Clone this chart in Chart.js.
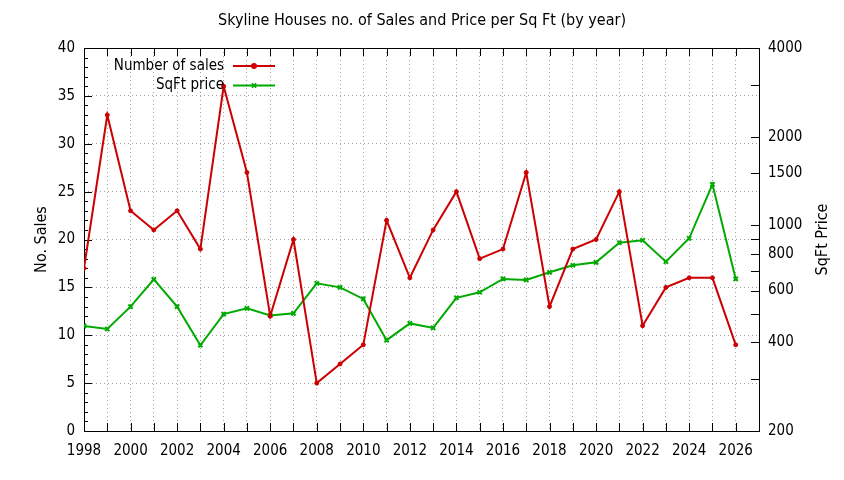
<!DOCTYPE html>
<html><head><meta charset="utf-8">
<script src="https://cdn.jsdelivr.net/npm/chart.js@4.4.0/dist/chart.umd.min.js"></script>
<style>html,body{margin:0;padding:0;background:#fff}#wrap{width:844px;height:480px}</style>
</head><body><div id="wrap"><canvas id="c" width="844" height="480"></canvas></div>
<script>
const years = [1998,1999,2000,2001,2002,2003,2004,2005,2006,2007,2008,2009,2010,2011,2012,2013,2014,2015,2016,2017,2018,2019,2020,2021,2022,2023,2024,2025,2026];
const sales = [17,33,23,21,23,19,36,27,12,20,5,7,9,22,16,21,25,18,19,27,13,19,20,25,11,15,16,16,9];
const sqftPrice = [455,444,529,655,529,391,499,522,494,502,635,615,562,407,464,448,567,592,657,652,692,731,748,872,889,752,903,1377,657];
const xTickLabels = ['1998','2000','2002','2004','2006','2008','2010','2012','2014','2016','2018','2020','2022','2024','2026'];
const salesTickValues = [0,5,10,15,20,25,30,35,40];
const priceTickValues = [200,300,400,500,600,700,800,900,1000,1500,2000,3000,4000];
const priceTickLabels = ['200','','400','','600','','800','','1000','1500','2000','','4000'];
const titleText = 'Skyline Houses no. of Sales and Price per Sq Ft (by year)';
const leftAxisTitle = 'No. Sales';
const rightAxisTitle = 'SqFt Price';
const seriesLabels = ['Number of sales','SqFt price'];
const seriesColors = ['#cc0000','#00aa00'];

const FONT = "'DejaVu Sans Condensed','DejaVu Sans',sans-serif";
Chart.defaults.font.family = FONT;
Chart.defaults.font.size = 15;
Chart.defaults.color = '#000';

const framePlugin = {
  id: 'frame',
  beforeDatasetsDraw(chart) {
    const {ctx, chartArea: a, scales} = chart;
    ctx.save();
    ctx.strokeStyle = '#000';
    ctx.lineWidth = 1;
    ctx.beginPath();
    scales.x.ticks.forEach(t => {
      const px = Math.round(scales.x.getPixelForValue(t.value)) + 0.5;
      ctx.moveTo(px, a.bottom); ctx.lineTo(px, a.bottom - 8);
      ctx.moveTo(px, a.top); ctx.lineTo(px, a.top + 8);
    });
    const ys = scales.y;
    for (let v = ys.min; v <= ys.max; v += 1) {
      const py = Math.round(ys.getPixelForValue(v)) + 0.5;
      const len = v % 5 === 0 ? 8 : 4;
      ctx.moveTo(a.left, py); ctx.lineTo(a.left + len, py);
    }
    scales.y1.ticks.forEach(t => {
      const py = Math.round(scales.y1.getPixelForValue(t.value)) + 0.5;
      ctx.moveTo(a.right, py); ctx.lineTo(a.right - 8, py);
    });
    ctx.stroke();
    ctx.strokeRect(Math.round(a.left) + 0.5, Math.round(a.top) + 0.5, Math.round(a.right - a.left), Math.round(a.bottom - a.top));
    ctx.restore();
  },
  afterDraw(chart) {
    const {ctx, chartArea: a} = chart;
    ctx.save();
    ctx.font = '15px ' + FONT;
    ctx.textBaseline = 'middle';
    chart.data.datasets.forEach((ds, i) => {
      const y = a.top + 18 + i * 19.5;
      ctx.textAlign = 'right';
      ctx.fillStyle = '#000';
      ctx.fillText(ds.label, a.left + 140, y);
      ctx.strokeStyle = ds.borderColor;
      ctx.lineWidth = 2;
      ctx.beginPath();
      ctx.moveTo(a.left + 149, y); ctx.lineTo(a.left + 191, y);
      ctx.stroke();
      ctx.fillStyle = ds.backgroundColor;
      Chart.helpers.drawPoint(ctx, {pointStyle: ds.pointStyle, radius: ds.pointRadius, rotation: 0, borderWidth: ds.pointBorderWidth}, a.left + 170, y);
    });
    ctx.restore();
    const midY = (a.top + a.bottom) / 2;
    [[leftAxisTitle, 42], [rightAxisTitle, 823]].forEach(([txt, x]) => {
      ctx.save();
      ctx.font = '16px ' + FONT;
      ctx.fillStyle = '#000';
      ctx.textAlign = 'center';
      ctx.textBaseline = 'middle';
      ctx.translate(x, midY);
      ctx.rotate(-Math.PI / 2);
      ctx.fillText(txt, 0, 0);
      ctx.restore();
    });
  }
};

new Chart(document.getElementById('c'), {
  type: 'line',
  data: {
    datasets: [
      {label: seriesLabels[0], data: years.map((x, i) => ({x, y: sales[i]})), borderColor: seriesColors[0], backgroundColor: seriesColors[0],
       borderWidth: 2, pointStyle: 'circle', pointRadius: 2, pointBorderWidth: 1, yAxisID: 'y', tension: 0},
      {label: seriesLabels[1], data: years.map((x, i) => ({x, y: sqftPrice[i]})), borderColor: seriesColors[1], backgroundColor: seriesColors[1],
       borderWidth: 2, pointStyle: 'crossRot', pointRadius: 3, pointBorderWidth: 2, yAxisID: 'y1', tension: 0}
    ]
  },
  options: {
    responsive: false, animation: false, devicePixelRatio: 1,
    layout: {padding: 0},
    plugins: {
      legend: {display: false}, tooltip: {enabled: false},
      title: {display: true, text: titleText, color: '#000', font: {size: 16, weight: 'normal'}, padding: {top: 11, bottom: 17.8}}
    },
    scales: {
      x: {
        type: 'linear', min: 1998, max: 2027,
        afterBuildTicks: s => { s.ticks = years.map(v => ({value: v})); },
        ticks: {autoSkip: false, maxRotation: 0, padding: 11, color: '#000',
          callback: v => xTickLabels.includes(String(v)) ? String(v) : ''},
        grid: {drawTicks: false, color: '#a0a0a0', lineWidth: 1},
        border: {display: false, dash: [1, 3]},
        afterFit: s => { s.height = 49; }
      },
      y: {
        type: 'linear', position: 'left', min: 0, max: 40,
        afterBuildTicks: s => { s.ticks = salesTickValues.map(v => ({value: v})); },
        ticks: {padding: 9, color: '#000', callback: v => String(v)},
        grid: {drawTicks: false, color: '#a0a0a0', lineWidth: 1},
        border: {display: false, dash: [1, 3]},
        afterFit: s => { s.width = 84; }
      },
      y1: {
        type: 'logarithmic', position: 'right', min: 200, max: 4000,
        afterBuildTicks: s => { s.ticks = priceTickValues.map(v => ({value: v})); },
        ticks: {padding: 9, color: '#000', autoSkip: false, callback: v => priceTickLabels[priceTickValues.indexOf(v)] ?? ''},
        grid: {display: false, drawTicks: false},
        border: {display: false},
        afterFit: s => { s.width = 85; }
      }
    }
  },
  plugins: [framePlugin]
});
</script>
</body></html>
